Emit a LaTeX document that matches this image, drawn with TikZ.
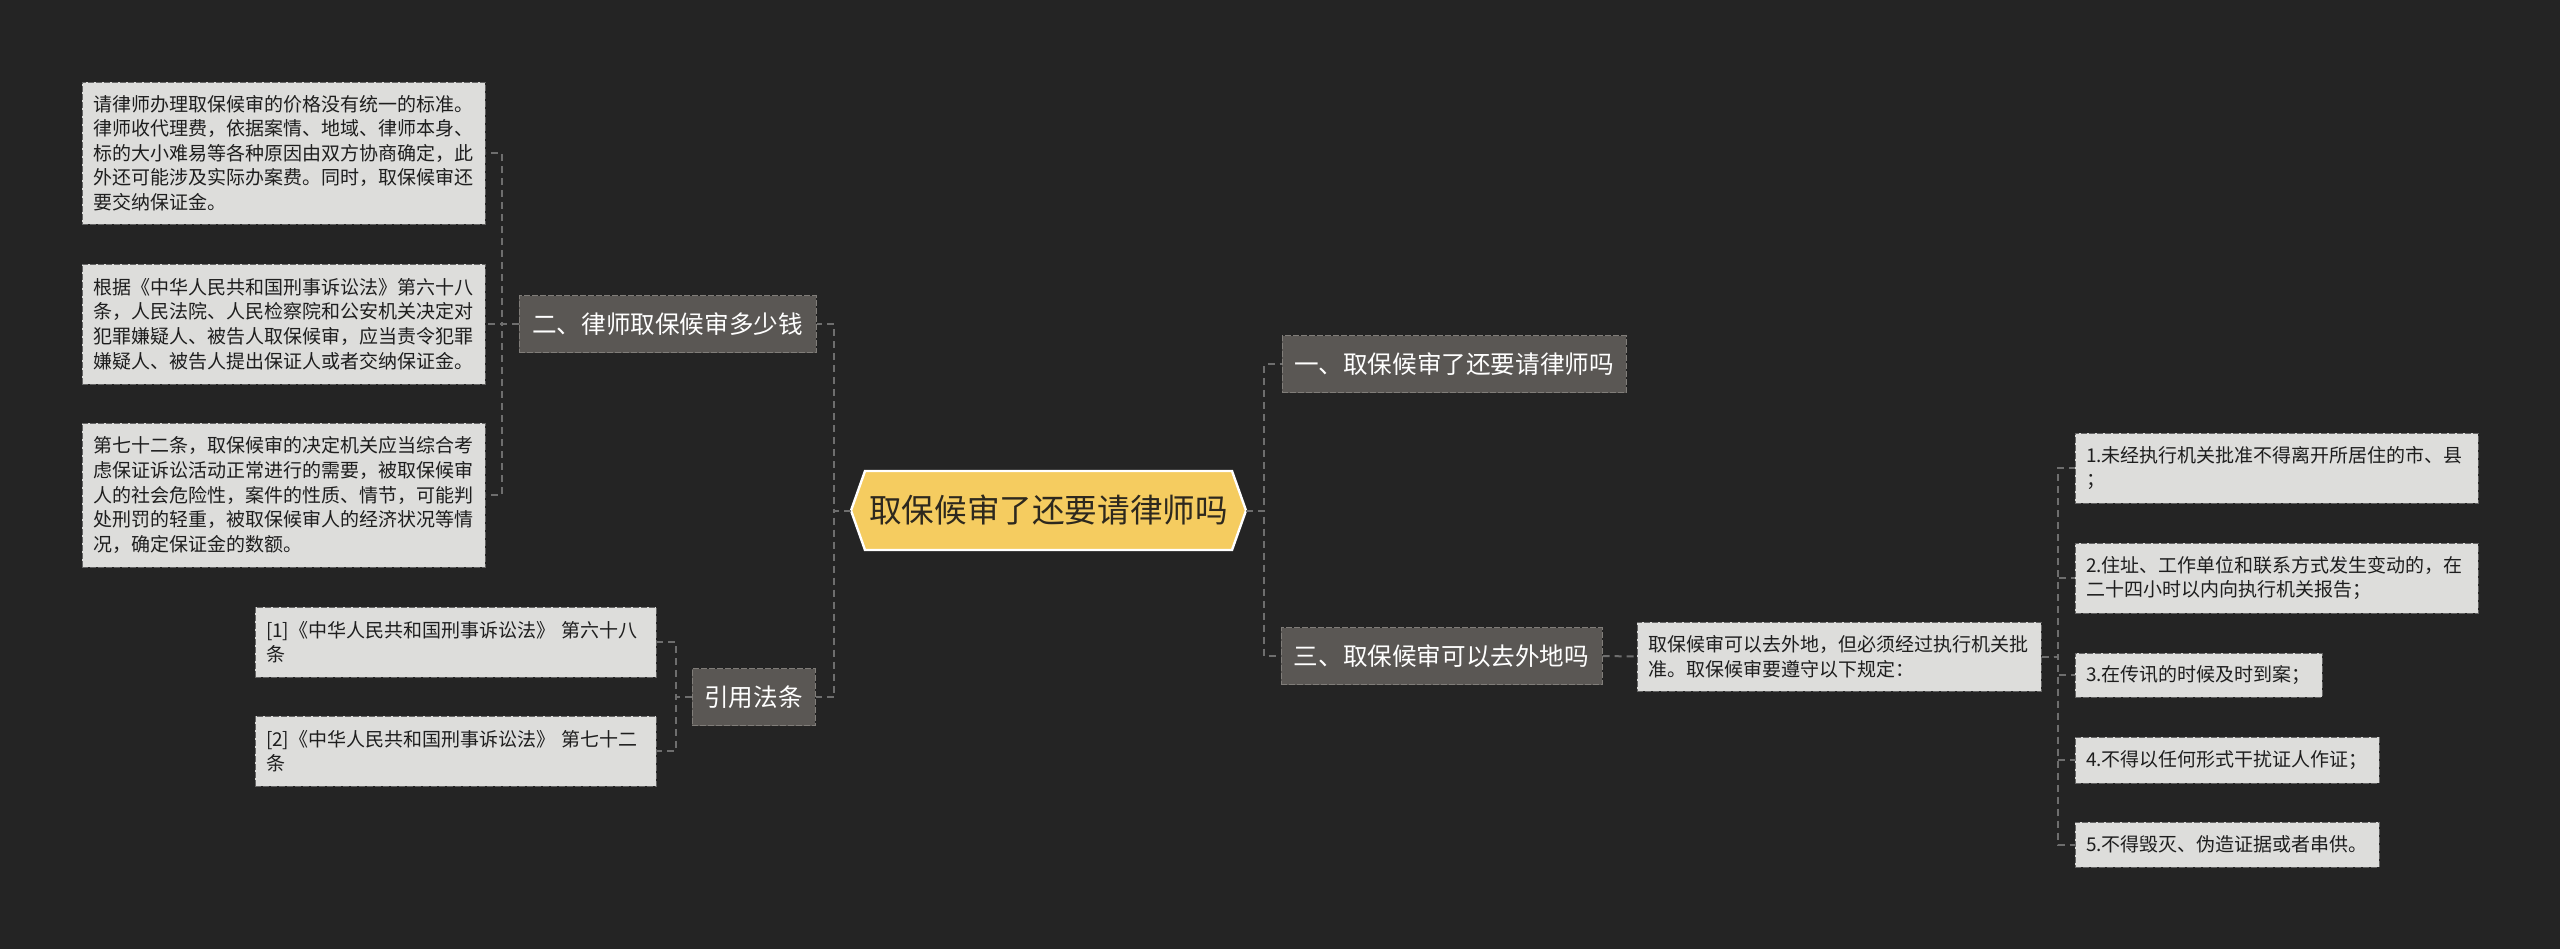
\documentclass[tikz,border=0pt]{standalone}
\usepackage{fontspec}
\setmainfont{Noto Sans CJK SC}
\usepackage{tikz}
\usetikzlibrary{calc}
\usepackage{xcolor}
\definecolor{bgdark}{RGB}{36,36,36}
\definecolor{leaffill}{RGB}{221,221,219}
\definecolor{leafedge}{RGB}{100,100,100}
\definecolor{leafink}{RGB}{30,30,30}
\definecolor{topicfill}{RGB}{90,87,84}
\definecolor{topicedge}{RGB}{128,125,121}
\definecolor{hubfill}{RGB}{245,204,96}
\definecolor{hubink}{RGB}{45,40,30}
\definecolor{linegray}{RGB}{110,110,110}

\tikzset{
  conn/.style={draw=linegray, line width=1pt, dash pattern=on 3.5pt off 2.5pt},
  leaf/.style={draw=leafedge, fill=leaffill, line width=0.5pt, dash pattern=on 3pt off 1pt,
    text=leafink, align=left, text width=#1, inner xsep=5.5pt, inner ysep=3pt,
    font=\fontsize{9.5}{12.3}\selectfont},
  topic/.style={draw=topicedge, fill=topicfill, line width=0.5pt, dash pattern=on 3pt off 1pt,
    text=white, minimum height=28.5pt, inner sep=0pt, font=\fontsize{12.3}{14}\selectfont},
  hubshape/.style={fill=hubfill, draw=white, line width=1.2pt},
  hubtext/.style={text=hubink, inner sep=0pt, font=\fontsize{16.3}{18}\selectfont},
}

\begin{document}
\begin{tikzpicture}[x=0.5pt, y=-0.5pt]
  \fill[bgdark] (0,0) rectangle (2560,949);
  \useasboundingbox (0,0) rectangle (2560,949);
  % Central topic
  \coordinate (hubc) at (1048.5,510.5);
  \filldraw[hubshape] ($(hubc)+(-183.5,-39.5)$) -- ($(hubc)+(183.5,-39.5)$)
    -- ($(hubc)+(197.5,0)$) coordinate (hubR) -- ($(hubc)+(183.5,39.5)$)
    -- ($(hubc)+(-183.5,39.5)$) -- ($(hubc)+(-197.5,0)$) coordinate (hubL) -- cycle;
  \node[hubtext] (hub) at (hubc) {取保候审了还要请律师吗};

  % Main branches
  \node[topic, minimum width=148.5pt] (fee) at (667.5,324) {二、律师取保候审多少钱};
  \node[topic, minimum width=61.5pt] (law) at (753.5,697) {引用法条};
  \node[topic, minimum width=172pt] (need) at (1454,364) {一、取保候审了还要请律师吗};
  \node[topic, minimum width=160.5pt] (away) at (1441.5,656) {三、取保候审可以去外地吗};

  % Fee details
  \node[leaf=190.5pt, minimum height=71pt] (fee1) at (283.5,153) {请律师办理取保候审的价格没有统一的标准。\\律师收代理费，依据案情、地域、律师本身、\\标的大小难易等各种原因由双方协商确定，此\\外还可能涉及实际办案费。同时，取保候审还\\要交纳保证金。};
  \node[leaf=190.5pt, minimum height=60pt] (fee2) at (283.5,324) {根据《中华人民共和国刑事诉讼法》第六十八\\条，人民法院、人民检察院和公安机关决定对\\犯罪嫌疑人、被告人取保候审，应当责令犯罪\\嫌疑人、被告人提出保证人或者交纳保证金。};
  \node[leaf=190.5pt, minimum height=72pt] (fee3) at (283.5,495) {第七十二条，取保候审的决定机关应当综合考\\虑保证诉讼活动正常进行的需要，被取保候审\\人的社会危险性，案件的性质、情节，可能判\\处刑罚的轻重，被取保候审人的经济状况等情\\况，确定保证金的数额。};

  % Cited articles
  \node[leaf=189.5pt, minimum height=35pt] (ref1) at (455.5,642) {[1]《中华人民共和国刑事诉讼法》 第六十八\\条};
  \node[leaf=189.5pt, minimum height=35pt] (ref2) at (455.5,751) {[2]《中华人民共和国刑事诉讼法》 第七十二\\条};

  % Leaving town
  \node[leaf=191pt, minimum height=34.5pt] (rule) at (1839,656.5) {取保候审可以去外地，但必须经过执行机关批\\准。取保候审要遵守以下规定：};
  \node[leaf=190.5pt, minimum height=35pt] (item1) at (2276.5,468) {1.未经执行机关批准不得离开所居住的市、县\\；};
  \node[leaf=190.5pt, minimum height=35pt] (item2) at (2276.5,578) {2.住址、工作单位和联系方式发生变动的，在\\二十四小时以内向执行机关报告；};
  \node[leaf=112.5pt, minimum height=22pt] (item3) at (2198.5,675) {3.在传讯的时候及时到案；};
  \node[leaf=141pt, minimum height=23pt] (item4) at (2227,760) {4.不得以任何形式干扰证人作证；};
  \node[leaf=141pt, minimum height=22.5pt] (item5) at (2227,844.5) {5.不得毁灭、伪造证据或者串供。};

  % Connectors
  \draw[conn] (hubL) -- ++(-17,0) |- (fee.east);
  \draw[conn] (hubL) -- ++(-17,0) |- (law.east);
  \draw[conn] (hubR) -- ++(18,0) |- (need.west);
  \draw[conn] (hubR) -- ++(18,0) |- (away.west);
  \foreach \n in {fee1,fee2,fee3}
    \draw[conn] (fee.west) -- ++(-17,0) |- (\n.east);
  \foreach \n in {ref1,ref2}
    \draw[conn] (law.west) -- ++(-16,0) |- (\n.east);
  \draw[conn] (away.east) -- (rule.west);
  \foreach \n in {item1,item2,item3,item4,item5}
    \draw[conn] (rule.east) -- ++(16,0) |- (\n.west);
\end{tikzpicture}
\end{document}
